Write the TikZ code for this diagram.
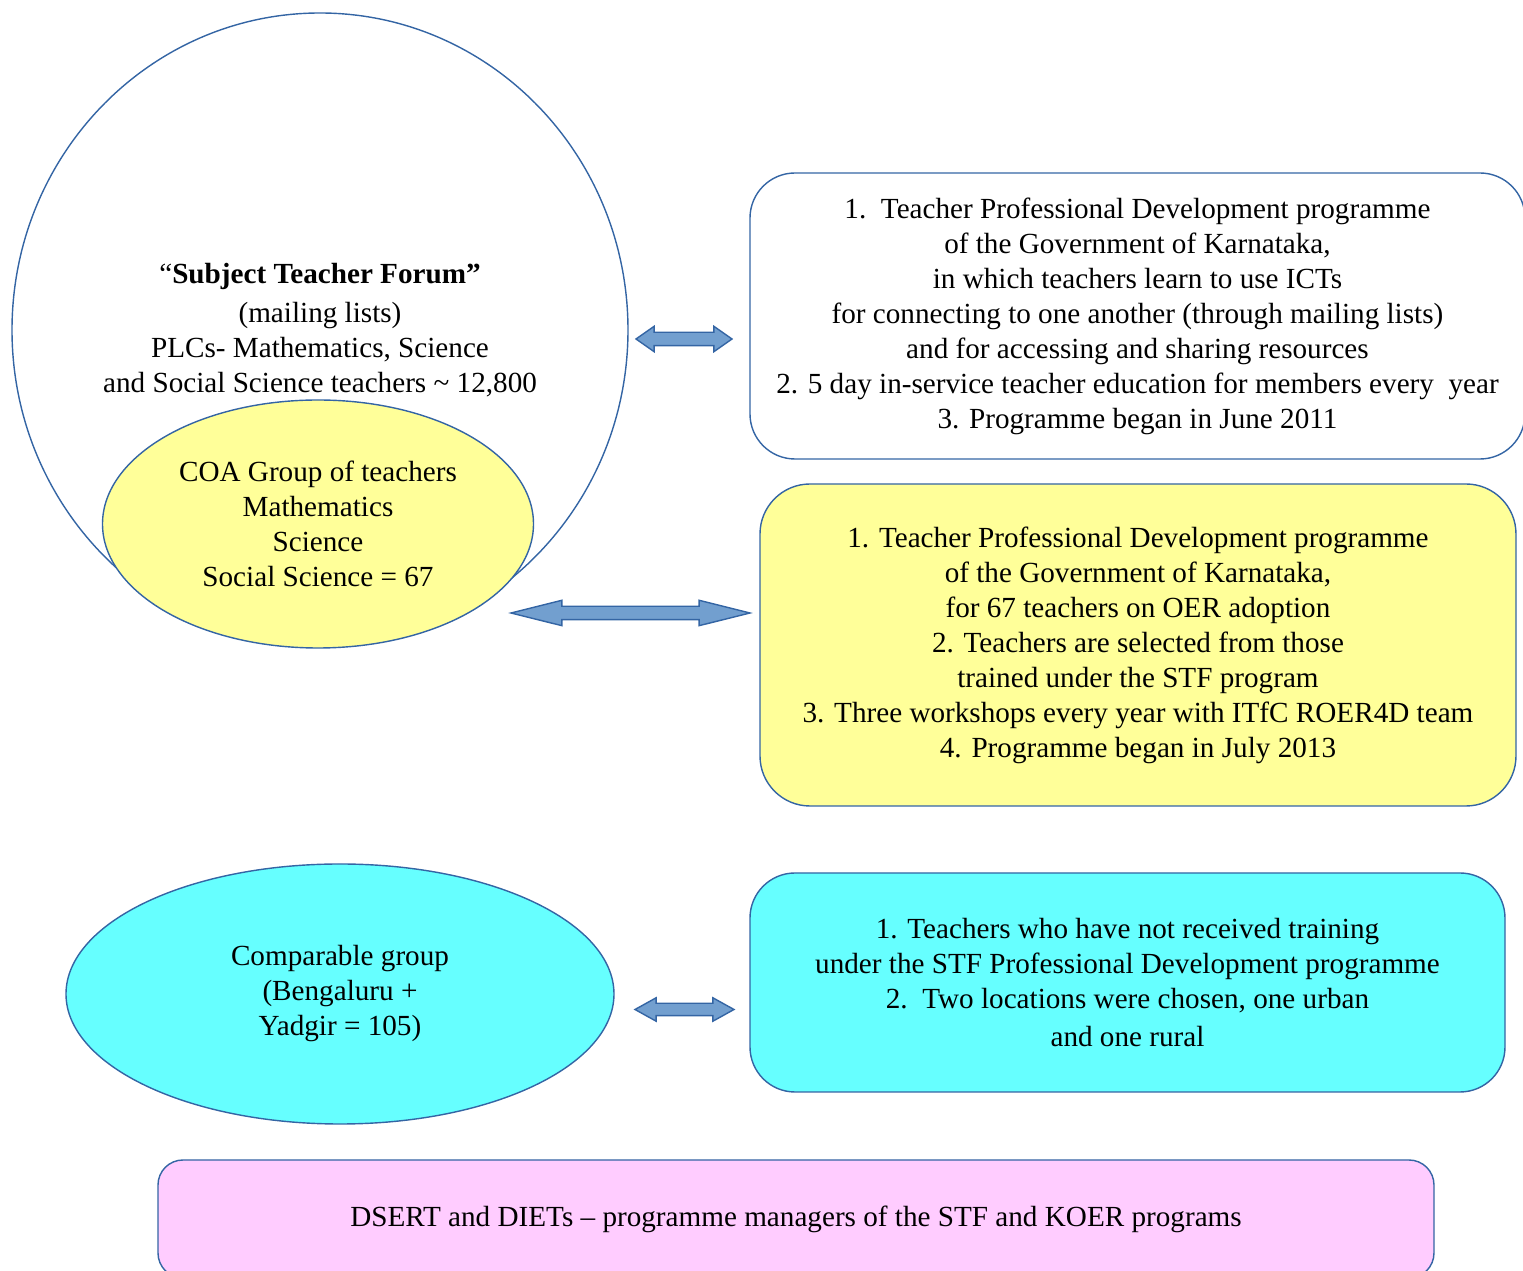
\documentclass[tikz,border=0pt]{standalone}
\usepackage{fontspec}
\setmainfont{Liberation Serif}
\usepackage{xcolor}
\usetikzlibrary{shapes.geometric,shapes.arrows}

\definecolor{lineblue}{HTML}{3465A4}
\definecolor{arrowblue}{HTML}{729FCF}
\definecolor{coayellow}{HTML}{FFFF99}
\definecolor{compcyan}{HTML}{66FFFF}
\definecolor{mgrpink}{HTML}{FFCCFF}

\tikzset{
  infobox/.style={draw=lineblue, line width=0.4pt, rectangle, align=center, inner sep=0pt},
  groupblob/.style={draw=lineblue, line width=0.4pt, ellipse, align=center, inner sep=0pt},
  linkarrow/.style={draw=lineblue, fill=arrowblue, line width=0.4pt, shape=double arrow,
    inner xsep=0pt, inner ysep=0.06cm, double arrow head extend=0.06cm}
}

\begin{document}
\begin{tikzpicture}[font=\fontsize{8.3}{9.96}\selectfont]
  \useasboundingbox (0,0) rectangle (15.23,-12.71);

  % Groups on the left
  \node[groupblob, minimum width=6.16cm, minimum height=6.34cm] (stf) at (3.20,-3.30) {};
  \node[align=center, inner sep=0pt] (stftext) at (stf.center)
    {“\textbf{Subject Teacher Forum”}\\[0.04cm](mailing lists)\\PLCs- Mathematics, Science\\and Social Science teachers \textasciitilde{} 12,800};
  \node[groupblob, fill=coayellow, minimum width=4.31cm, minimum height=2.48cm] (coa) at (3.18,-5.24)
    {COA Group of teachers\\Mathematics\\Science\\Social Science = 67};
  \node[groupblob, fill=compcyan, minimum width=5.48cm, minimum height=2.60cm] (comp) at (3.40,-9.94)
    {Comparable group\\(Bengaluru +\\Yadgir = 105)};

  % Descriptions on the right
  \node[infobox, rounded corners=0.45cm, minimum width=7.75cm, minimum height=2.86cm] (tpd) at (11.375,-3.16)
    {1.\ \ Teacher Professional Development programme\\of the Government of Karnataka,\\in which teachers learn to use ICTs\\for connecting to one another (through mailing lists)\\and for accessing and sharing resources\\2. 5 day in-service teacher education for members every\ \ year\\3. Programme began in June 2011};
  \node[infobox, fill=coayellow, rounded corners=0.5cm, minimum width=7.56cm, minimum height=3.22cm] (koer) at (11.38,-6.45)
    {1. Teacher Professional Development programme\\of the Government of Karnataka,\\for 67 teachers on OER adoption\\2. Teachers are selected from those\\trained under the STF program\\3. Three workshops every year with ITfC ROER4D team\\4. Programme began in July 2013};
  \node[infobox, fill=compcyan, rounded corners=0.45cm, minimum width=7.55cm, minimum height=2.19cm] (ctrl) at (11.275,-9.825)
    {1. Teachers who have not received training\\under the STF Professional Development programme\\2.\ \ Two locations were chosen, one urban\\[0.03cm]and one rural};
  \node[infobox, fill=mgrpink, rounded corners=0.25cm, minimum width=12.76cm, minimum height=1.18cm] (dsert) at (7.96,-12.19)
    {DSERT and DIETs -- programme managers of the STF and KOER programs};

  % Block arrows
  \node[linkarrow, minimum height=0.96cm, double arrow tip angle=70] (arr1) at (6.84,-3.39) {};
  \node[linkarrow, minimum height=2.39cm, double arrow tip angle=28] (arr2) at (6.305,-6.13) {};
  \node[linkarrow, minimum height=0.99cm, inner ysep=0.055cm, double arrow head extend=0.055cm,
    double arrow tip angle=58] (arr3) at (6.845,-10.095) {};
\end{tikzpicture}
\end{document}
